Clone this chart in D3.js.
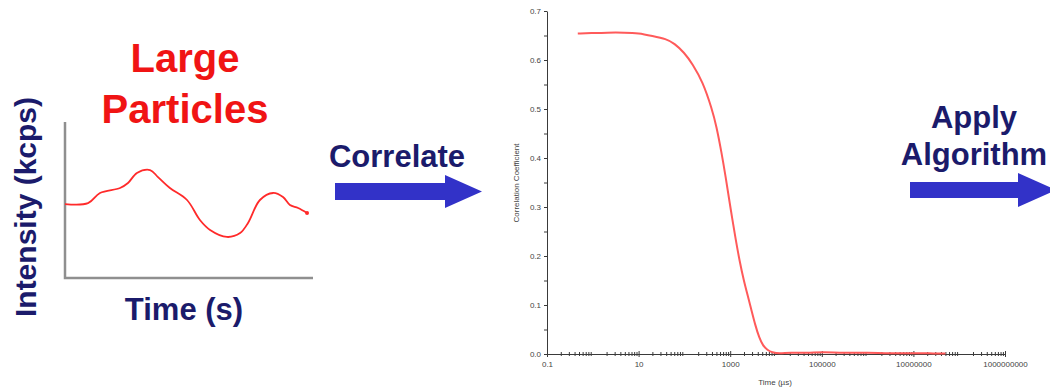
<!DOCTYPE html>
<html>
<head>
<meta charset="utf-8">
<script src="https://cdn.jsdelivr.net/npm/d3@7"></script>
<style>
  html, body { margin: 0; padding: 0; background: #fff; }
  svg { display: block; }
</style>
</head>
<body>
<svg id="chart" width="1050" height="390"></svg>
<script>
// ---------- data ----------
// left panel: raw intensity trace (arbitrary units)
const rawTime = [0, 9.3, 14.1, 22.2, 25.4, 29, 34.3, 37.5, 42.3, 49.2, 54.4, 58.5, 65.3, 70.6, 73.8, 78.6, 83.9, 87.9, 90.7, 94, 97.6];
const rawIntensity = [47.4, 48, 54.5, 57.7, 60.9, 67.3, 69.2, 64.7, 57.7, 50, 37.2, 30.8, 26.3, 28.8, 35.3, 50, 54.5, 51.9, 46.8, 44.9, 41.7];

// middle panel: correlation function
const corrTime = [0.47, 1, 2, 5, 10, 20, 40, 60, 100, 150, 250, 400, 500, 650, 800, 950, 1100, 1300, 1600, 2000, 2400, 2900, 3500, 4300, 5200, 6500, 8200, 12000, 20000, 50000, 1e5, 3e5, 1e6, 3e6, 1e7, 3e7, 5e7];
const corrValue = [0.654, 0.655, 0.656, 0.656, 0.655, 0.649, 0.643, 0.634, 0.615, 0.592, 0.556, 0.50, 0.465, 0.41, 0.36, 0.315, 0.278, 0.237, 0.19, 0.148, 0.12, 0.09, 0.06, 0.033, 0.017, 0.008, 0.003, 0.001, 0.003, 0.002, 0.004, 0.002, 0.003, 0.001, 0.002, 0.001, 0.001];

const xTickValues = [0.1, 10, 1000, 100000, 10000000, 1000000000];
const xTickLabels = ["0.1", "10", "1000", "100000", "10000000", "1000000000"];
const yTickValues = [0, 0.1, 0.2, 0.3, 0.4, 0.5, 0.6, 0.7];
const yTickLabels = ["0.0", "0.1", "0.2", "0.3", "0.4", "0.5", "0.6", "0.7"];

const titleLines = ["Large", "Particles"];
const leftXLabel = "Time (s)";
const leftYLabel = "Intensity (kcps)";
const arrow1Label = ["Correlate"];
const arrow2Label = ["Apply", "Algorithm"];
const corrXLabel = "Time (\u00b5s)";
const corrYLabel = "Correlation Coefficient";

// ---------- drawing ----------
const svg = d3.select("#chart");
const navy = "#1b1b6b";
const arrowBlue = "#3232c8";
const boldFont = "'Liberation Sans', Arial, sans-serif";

// ----- left panel -----
const lx = d3.scaleLinear().domain([0, 100]).range([65, 313]);
const ly = d3.scaleLinear().domain([0, 100]).range([278, 122]);

svg.append("path")
  .attr("d", `M${lx(0)},${ly(100)} L${lx(0)},${ly(0)} L${lx(100)},${ly(0)}`)
  .attr("fill", "none").attr("stroke", "#8f8f8f").attr("stroke-width", 2.5);

const rawPts = rawTime.map((t, i) => [t, rawIntensity[i]]);
svg.append("path")
  .datum(rawPts)
  .attr("d", d3.line().x(d => lx(d[0])).y(d => ly(d[1])).curve(d3.curveCatmullRom.alpha(0.5)))
  .attr("fill", "none").attr("stroke", "#ff2a2a").attr("stroke-width", 1.8);
svg.append("circle")
  .attr("cx", lx(rawTime[rawTime.length - 1])).attr("cy", ly(rawIntensity[rawIntensity.length - 1]))
  .attr("r", 2).attr("fill", "#ff2a2a");

svg.selectAll("text.title").data(titleLines).enter().append("text")
  .attr("class", "title")
  .attr("x", 185).attr("y", (d, i) => 72 + i * 51)
  .attr("text-anchor", "middle")
  .attr("font-family", boldFont).attr("font-weight", "bold")
  .attr("font-size", 40).attr("fill", "#f01414")
  .text(d => d);

svg.append("text")
  .attr("x", 184).attr("y", 320)
  .attr("text-anchor", "middle")
  .attr("font-family", boldFont).attr("font-weight", "bold")
  .attr("font-size", 31).attr("fill", navy)
  .text(leftXLabel);

svg.append("text")
  .attr("transform", "translate(36,207) rotate(-90)")
  .attr("text-anchor", "middle")
  .attr("font-family", boldFont).attr("font-weight", "bold")
  .attr("font-size", 30).attr("fill", navy)
  .text(leftYLabel);

// ----- arrows -----
function arrow(x0, xHead, xTip, yMid, bodyHalf, headHalf) {
  return `M${x0},${yMid - bodyHalf} L${xHead},${yMid - bodyHalf} L${xHead},${yMid - headHalf} L${xTip},${yMid} L${xHead},${yMid + headHalf} L${xHead},${yMid + bodyHalf} L${x0},${yMid + bodyHalf} Z`;
}
svg.append("path").attr("d", arrow(335, 445, 482, 191.5, 8.5, 16.5)).attr("fill", arrowBlue);
svg.append("path").attr("d", arrow(910, 1018, 1056, 190, 8, 17)).attr("fill", arrowBlue);

svg.selectAll("text.a1").data(arrow1Label).enter().append("text")
  .attr("class", "a1")
  .attr("x", 397).attr("y", 167)
  .attr("text-anchor", "middle")
  .attr("font-family", boldFont).attr("font-weight", "bold")
  .attr("font-size", 31).attr("fill", navy)
  .text(d => d);

svg.selectAll("text.a2").data(arrow2Label).enter().append("text")
  .attr("class", "a2")
  .attr("x", 974).attr("y", (d, i) => 128 + i * 37)
  .attr("text-anchor", "middle")
  .attr("font-family", boldFont).attr("font-weight", "bold")
  .attr("font-size", 31).attr("fill", navy)
  .text(d => d);

// ----- middle panel (correlation) -----
const cx = d3.scaleLog().domain([0.1, 1e9]).range([547, 1005]);
const cy = d3.scaleLinear().domain([0, 0.7]).range([354, 11]);
const axisColor = "#3a3a3a";
const tickFont = "'Liberation Sans', Arial, sans-serif";

// minor x ticks
const minorX = [];
for (let e = -1; e < 9; e++) for (let m = 2; m <= 9; m++) minorX.push(m * Math.pow(10, e));

const xAxisG = svg.append("g").attr("transform", `translate(0,${cy(0)})`);
xAxisG.call(d3.axisBottom(cx).tickValues(minorX).tickSize(2).tickFormat(""))
  .call(g => g.select(".domain").remove())
  .selectAll("line").attr("stroke", axisColor).attr("y1", -2);
xAxisG.append("g").call(d3.axisBottom(cx).tickValues(xTickValues).tickSize(3)
    .tickFormat((d, i) => xTickLabels[i]).tickSizeOuter(0))
  .call(g => g.select(".domain").attr("stroke", axisColor))
  .call(g => g.selectAll("line").attr("stroke", axisColor).attr("y1", -3))
  .call(g => g.selectAll("text").attr("fill", "#444").attr("font-size", 8).attr("font-family", tickFont).attr("dy", "0.9em"));

const yAxisG = svg.append("g").attr("transform", `translate(${cx(0.1)},0)`);
yAxisG.call(d3.axisLeft(cy).tickValues(d3.range(0.05, 0.7, 0.1)).tickSize(3).tickFormat(""))
  .call(g => g.select(".domain").remove())
  .selectAll("line").attr("stroke", axisColor);
yAxisG.append("g").call(d3.axisLeft(cy).tickValues(yTickValues).tickSize(3)
    .tickFormat((d, i) => yTickLabels[i]).tickSizeOuter(0))
  .call(g => g.select(".domain").attr("stroke", axisColor))
  .call(g => g.selectAll("line").attr("stroke", axisColor))
  .call(g => g.selectAll("text").attr("fill", "#444").attr("font-size", 8).attr("font-family", tickFont));

svg.append("text")
  .attr("x", 775).attr("y", 385)
  .attr("text-anchor", "middle")
  .attr("font-family", tickFont).attr("font-size", 8).attr("fill", "#444")
  .text(corrXLabel);

svg.append("text")
  .attr("transform", "translate(519,183) rotate(-90)")
  .attr("text-anchor", "middle")
  .attr("font-family", tickFont).attr("font-size", 8).attr("fill", "#444")
  .text(corrYLabel);

const corrPts = corrTime.map((t, i) => [t, corrValue[i]]);
svg.append("path")
  .datum(corrPts)
  .attr("d", d3.line().x(d => cx(d[0])).y(d => cy(d[1])).curve(d3.curveBasis))
  .attr("fill", "none").attr("stroke", "#ff5a5a").attr("stroke-width", 2);
</script>
</body>
</html>
